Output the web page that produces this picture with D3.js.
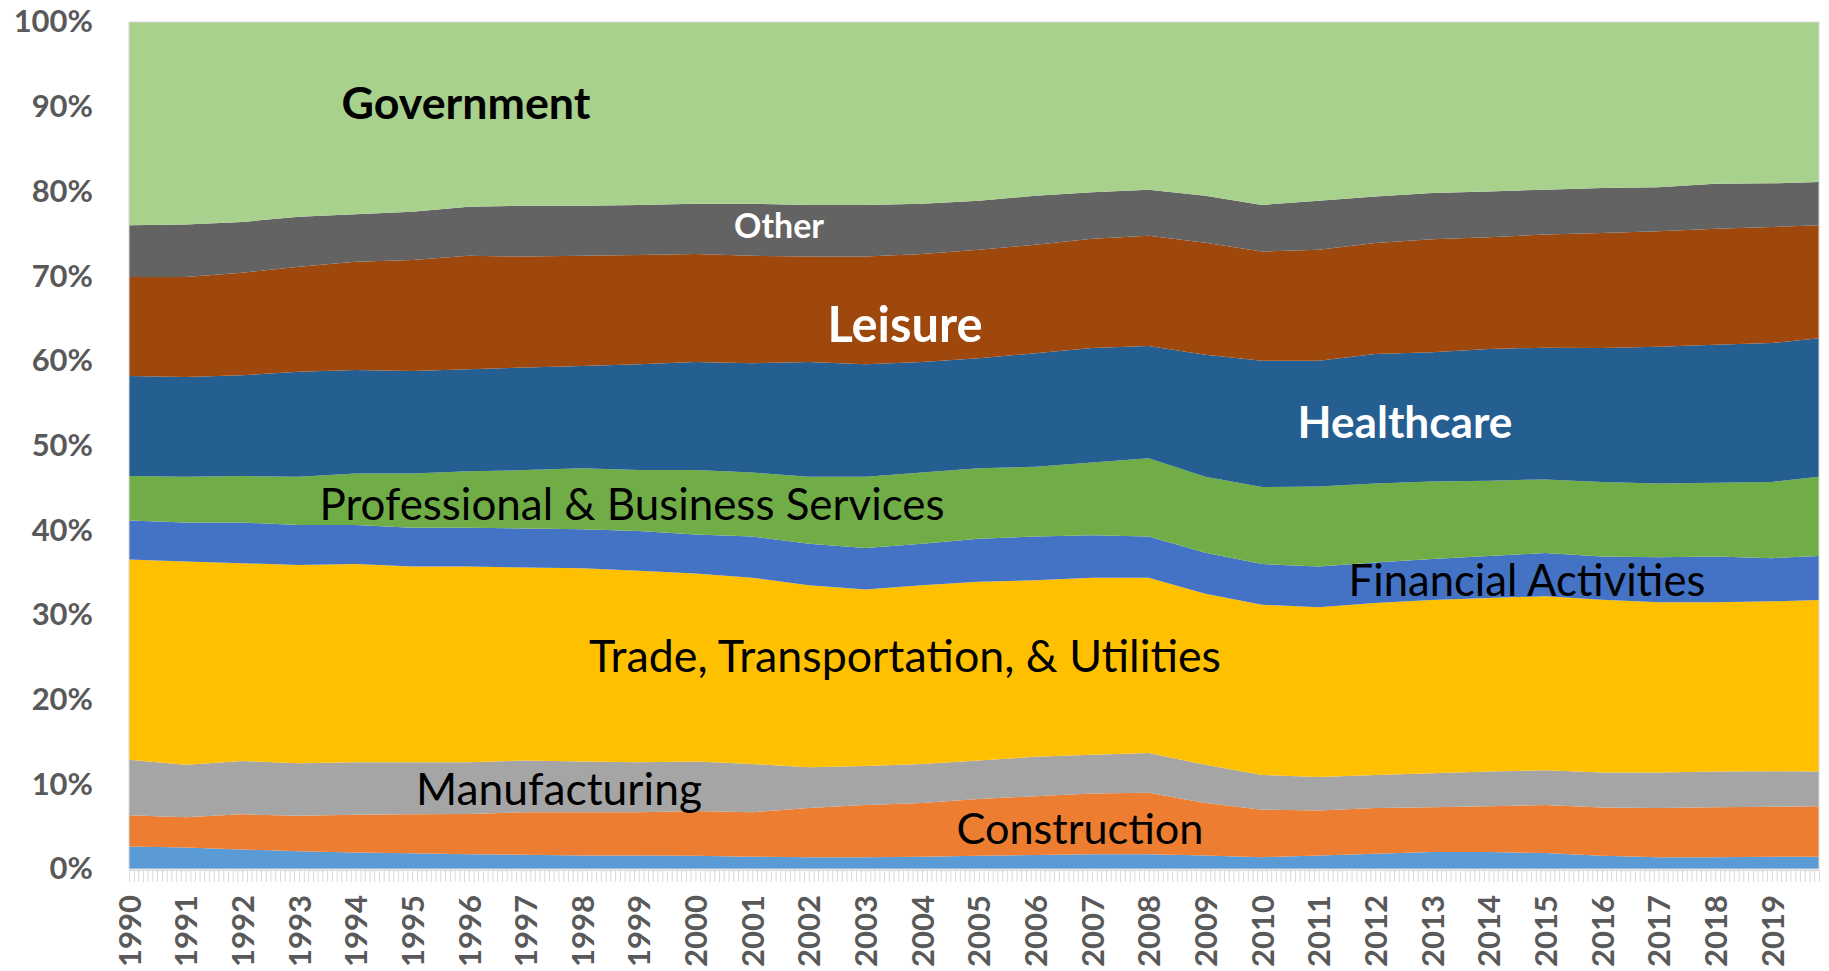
<!DOCTYPE html>
<html>
<head>
<meta charset="utf-8">
<script src="https://d3js.org/d3.v7.min.js"></script>
<style>
  body { margin: 0; background: #fff; }
  svg text { font-family: Lato, "Open Sans", sans-serif; }
</style>
</head>
<body>
<svg id="chart" width="1829" height="971"></svg>
<script>
// sample points: January of each year, last one is Nov 2019
const periods = ["1990-01","1991-01","1992-01","1993-01","1994-01","1995-01","1996-01","1997-01","1998-01","1999-01",
  "2000-01","2001-01","2002-01","2003-01","2004-01","2005-01","2006-01","2007-01","2008-01","2009-01",
  "2010-01","2011-01","2012-01","2013-01","2014-01","2015-01","2016-01","2017-01","2018-01","2019-01","2019-11"];

// share of total employment, %
const mining        = [2.65,2.55,2.3,2.1,1.96,1.85,1.75,1.69,1.6,1.58,1.55,1.45,1.4,1.4,1.45,1.55,1.65,1.75,1.75,1.6,1.4,1.6,1.8,2.0,2.0,1.88,1.55,1.4,1.4,1.45,1.45];
const construction  = [3.7,3.55,4.15,4.2,4.44,4.6,4.75,5.01,5.1,5.12,5.3,5.25,5.8,6.15,6.35,6.7,6.95,7.15,7.25,6.2,5.6,5.3,5.4,5.3,5.4,5.67,5.7,5.8,5.9,5.9,5.95];
const manufacturing = [6.55,6.2,6.3,6.2,6.2,6.15,6.1,6.1,6.0,5.9,5.85,5.7,4.8,4.6,4.6,4.55,4.65,4.6,4.7,4.5,4.1,3.95,3.9,4.0,4.1,4.1,4.15,4.2,4.2,4.2,4.1];
const trade         = [23.65,24.0,23.35,23.4,23.4,23.1,23.1,22.8,22.8,22.6,22.2,22.0,21.5,20.85,21.1,21.1,20.85,20.9,20.7,20.2,20.1,20.05,20.3,20.45,20.5,20.55,20.4,20.1,20.0,20.05,20.25];
const financial     = [4.6,4.6,4.8,4.7,4.6,4.6,4.6,4.6,4.6,4.7,4.6,4.85,4.9,4.9,4.9,5.1,5.15,5.0,4.85,4.85,4.8,4.8,4.8,4.85,4.95,5.1,5.1,5.3,5.4,5.1,5.2];
const professional  = [5.25,5.4,5.5,5.7,6.1,6.4,6.65,6.9,7.2,7.2,7.6,7.55,7.9,8.4,8.4,8.3,8.25,8.6,9.25,8.95,9.1,9.45,9.3,9.15,8.9,8.7,8.8,8.7,8.7,9.0,9.35];
const healthcare    = [11.8,11.8,11.9,12.4,12.2,12.1,12.05,12.1,12.1,12.5,12.75,12.9,13.55,13.3,13.05,13.0,13.4,13.5,13.25,14.4,14.9,14.85,15.3,15.25,15.55,15.55,15.8,16.15,16.3,16.4,16.35];
const leisure       = [11.7,11.8,12.1,12.4,12.8,13.1,13.4,13.1,13.0,12.9,12.75,12.7,12.45,12.7,12.75,12.8,12.8,12.9,13.0,13.25,12.9,13.1,13.1,13.35,13.2,13.35,13.6,13.65,13.7,13.7,13.35];
const other         = [6.1,6.2,6.0,5.9,5.6,5.7,5.8,6.0,5.9,5.9,5.95,6.15,6.1,6.1,5.95,5.8,5.8,5.5,5.45,5.55,5.5,5.8,5.5,5.45,5.4,5.3,5.3,5.2,5.3,5.15,5.1];
const government    = [24.0,23.9,23.6,23.0,22.7,22.4,21.8,21.7,21.7,21.6,21.45,21.45,21.6,21.6,21.45,21.1,20.5,20.1,19.8,20.5,21.6,21.1,20.6,20.2,20.0,19.8,19.6,19.5,19.1,19.05,18.9];

const sectors = ["Mining & Logging","Construction","Manufacturing","Trade, Transportation, & Utilities","Financial Activities",
  "Professional & Business Services","Healthcare","Leisure","Other","Government"];
const sectorValues = [mining, construction, manufacturing, trade, financial, professional, healthcare, leisure, other, government];
const sectorColors = ["#5B9BD5","#ED7D31","#A5A5A5","#FFC000","#4472C4","#70AD47","#255E91","#9E480E","#636363","#A9D18E"];

const yTicks = d3.range(0, 11).map(d => d / 10);

const parseMonth = d3.timeParse("%Y-%m");
let rows = periods.map((p, i) => {
  let row = { date: parseMonth(p) };
  sectors.forEach((s, k) => { row[s] = sectorValues[k][i]; });
  return row;
});

let svg = d3.select("#chart");
let plotLeft = 129, plotRight = 1819, plotTop = 22, plotBottom = 869;

let x = d3.scaleTime()
  .domain(d3.extent(rows, d => d.date))
  .range([plotLeft, plotRight]);
let y = d3.scaleLinear().domain([0, 1]).range([plotBottom, plotTop]);

let stacked = d3.stack().keys(sectors).offset(d3.stackOffsetExpand)(rows);
let color = d3.scaleOrdinal().domain(sectors).range(sectorColors);

let area = d3.area()
  .x(d => x(d.data.date))
  .y0(d => y(d[0]))
  .y1(d => y(d[1]));

svg.append("g")
  .selectAll("path")
  .data(stacked)
  .join("path")
  .attr("fill", d => color(d.key))
  .attr("d", area);

// plot border
svg.append("rect")
  .attr("x", plotLeft).attr("y", plotTop)
  .attr("width", plotRight - plotLeft).attr("height", plotBottom - plotTop)
  .attr("fill", "none").attr("stroke", "#d9d9d9").attr("stroke-width", 1);

// y axis labels
let yAxis = svg.append("g")
  .attr("transform", `translate(${plotLeft},0)`)
  .call(d3.axisLeft(y).tickValues(yTicks).tickFormat(d3.format(".0%")).tickSize(0).tickPadding(36));
yAxis.select(".domain").remove();
yAxis.selectAll("text")
  .attr("font-family", "Lato, sans-serif")
  .attr("font-size", 31)
  .attr("font-weight", "bold")
  .attr("fill", "#595959");

// monthly minor ticks
let monthAxis = svg.append("g")
  .attr("transform", `translate(0,${plotBottom + 1})`)
  .call(d3.axisBottom(x).ticks(d3.timeMonth.every(1)).tickSize(12).tickFormat(""));
monthAxis.selectAll("line").attr("stroke", "#d9d9d9");
monthAxis.select(".domain").attr("stroke", "#d9d9d9");

// year labels, rotated
let yearAxis = svg.append("g")
  .attr("transform", `translate(0,${plotBottom})`)
  .call(d3.axisBottom(x).ticks(d3.timeYear.every(1)).tickFormat(d3.timeFormat("%Y")).tickSize(0));
yearAxis.select(".domain").remove();
yearAxis.selectAll("text")
  .attr("transform", "rotate(-90)")
  .attr("text-anchor", "end")
  .attr("x", -26)
  .attr("y", 0)
  .attr("dy", "0.36em")
  .attr("font-family", "Lato, sans-serif")
  .attr("font-size", 31)
  .attr("font-weight", "bold")
  .attr("fill", "#595959");

// in-chart labels: text, centre x, cap-centre y, target width, bold, colour
let labels = [
  ["Government", 466, 103, 249, true, "#000"],
  ["Other", 779, 226, 90, true, "#fff"],
  ["Leisure", 905, 324, 155, true, "#fff"],
  ["Healthcare", 1405, 422, 215, true, "#fff"],
  ["Professional & Business Services", 632, 504, 625, false, "#000"],
  ["Financial Activities", 1527, 580, 357, false, "#000"],
  ["Trade, Transportation, & Utilities", 905, 656, 632, false, "#000"],
  ["Manufacturing", 559, 789, 286, false, "#000"],
  ["Construction", 1080, 828, 247, false, "#000"]
];

labels.forEach(([txt, cx, cy, w, bold, fill]) => {
  let t = svg.append("text")
    .attr("x", cx)
    .attr("text-anchor", "middle")
    .attr("font-weight", bold ? "bold" : "normal")
    .attr("font-size", 40)
    .attr("fill", fill)
    .text(txt);
  let fs = 40 * w / t.node().getComputedTextLength();
  t.attr("font-size", fs).attr("y", cy + 0.36 * fs);
});
</script>
</body>
</html>
